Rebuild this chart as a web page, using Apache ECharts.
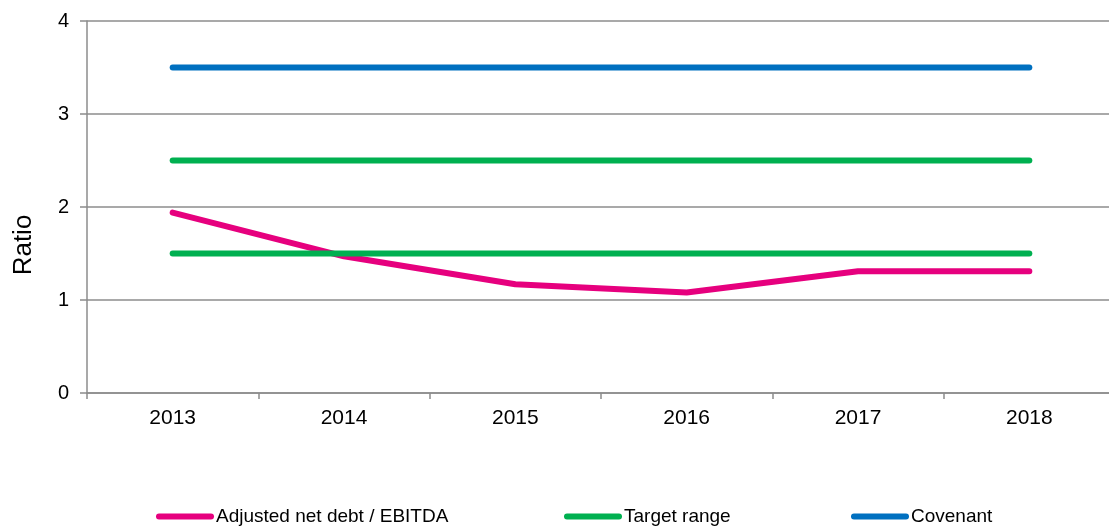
<!DOCTYPE html>
<html>
<head>
<meta charset="utf-8">
<script src="https://cdn.jsdelivr.net/npm/echarts@6/dist/echarts.min.js"></script>
<style>
  html, body { margin: 0; padding: 0; background: #fff; }
  #chart { width: 1109px; height: 526px; }
</style>
</head>
<body>
<div id="chart"></div>
<script>
  // values
  var years = ['2013', '2014', '2015', '2016', '2017', '2018']
  var netDebtRatio = [1.94, 1.47, 1.17, 1.08, 1.31, 1.31]
  var targetHigh = [2.5, 2.5, 2.5, 2.5, 2.5, 2.5]
  var targetLow = [1.5, 1.5, 1.5, 1.5, 1.5, 1.5]
  var covenant = [3.5, 3.5, 3.5, 3.5, 3.5, 3.5]

  var pink = '#E6007E'
  var green = '#00B050'
  var blue = '#0070C0'
  var gridGrey = '#8C8C8C'
  var fontFamily = '"Liberation Sans", Arial, sans-serif'

  var pillIcon = 'path://M3,0 L55,0 A3,3 0 0 1 55,6 L3,6 A3,3 0 0 1 3,0 Z'

  function legendAt(name, left) {
    return {
      data: [name],
      left: left,
      top: 507,
      padding: 0,
      icon: pillIcon,
      itemWidth: 58,
      itemHeight: 6,
      selectedMode: false,
      textStyle: {
        color: '#000',
        fontSize: 19,
        fontFamily: fontFamily,
        padding: [0, 0, 0, -3]
      }
    }
  }

  function lineSeries(name, data, color) {
    return {
      name: name,
      type: 'line',
      data: data,
      symbol: 'none',
      color: color,
      lineStyle: { color: color, width: 6, cap: 'round', join: 'round' }
    }
  }

  var chart = echarts.init(document.getElementById('chart'))
  var option = {
    animation: false,
    backgroundColor: '#fff',
    // plot runs a little past the right edge of the picture
    grid: {
      left: 87,
      width: 1028,
      top: 21,
      bottom: 133,
      outerBoundsMode: 'none',
      containLabel: false
    },
    legend: [
      legendAt('Adjusted net debt / EBITDA', 156),
      legendAt('Target range', 564),
      legendAt('Covenant', 851)
    ],
    graphic: [{
      type: 'text',
      x: 24,
      y: 245,
      rotation: Math.PI / 2,
      style: {
        text: 'Ratio',
        font: '26px ' + fontFamily,
        fill: '#000',
        align: 'center',
        verticalAlign: 'middle'
      }
    }],
    xAxis: {
      type: 'category',
      data: years,
      boundaryGap: true,
      axisLine: { lineStyle: { color: gridGrey, width: 1.5 } },
      axisTick: { show: true, interval: 0, length: 6, lineStyle: { color: gridGrey, width: 1.5 } },
      axisLabel: { color: '#000', fontSize: 21, fontFamily: fontFamily, margin: 15 },
      splitLine: { show: false }
    },
    yAxis: {
      type: 'value',
      min: 0,
      max: 4,
      interval: 1,
      axisLine: { show: true, lineStyle: { color: gridGrey, width: 1.5 } },
      axisTick: { show: true, length: 7, lineStyle: { color: gridGrey, width: 1.5 } },
      axisLabel: { color: '#000', fontSize: 20, fontFamily: fontFamily, margin: 18 },
      splitLine: { show: true, lineStyle: { color: gridGrey, width: 1.5 } }
    },
    series: [
      lineSeries('Adjusted net debt / EBITDA', netDebtRatio, pink),
      lineSeries('Target range', targetHigh, green),
      lineSeries('Target range', targetLow, green),
      lineSeries('Covenant', covenant, blue)
    ]
  }
  chart.setOption(option)
</script>
</body>
</html>
